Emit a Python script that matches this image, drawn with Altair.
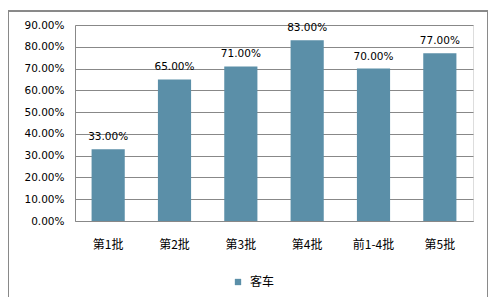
import altair as alt
import pandas as pd

categories = ["第1批", "第2批", "第3批", "第4批", "前1-4批", "第5批"]
values = [0.33, 0.65, 0.71, 0.83, 0.70, 0.77]
series = ["客车"] * len(categories)
y_ticks = [0.0, 0.1, 0.2, 0.3, 0.4, 0.5, 0.6, 0.7, 0.8, 0.9]

df = pd.DataFrame({"cat": categories, "val": values, "series": series})

x = alt.X("cat:N", sort=categories, title=None,
          scale=alt.Scale(paddingInner=0.5, paddingOuter=0.25),
          axis=alt.Axis(labelAngle=0, ticks=False, domainColor="#888888",
                        labelFont="Noto Sans CJK SC", labelFontSize=12,
                        labelColor="#000000", labelPadding=18))
y = alt.Y("val:Q", title=None,
          scale=alt.Scale(domain=[0, 0.9], nice=False),
          axis=alt.Axis(values=y_ticks, format=".2%", labelOverlap=False,
                        ticks=False, domainColor="#888888", gridColor="#888888",
                        gridOpacity=1,
                        labelFont="DejaVu Sans", labelFontSize=10.5,
                        labelColor="#000000", labelPadding=11))

bars = alt.Chart(df).mark_bar(color="#5B8FA8").encode(
    x=x, y=y,
    color=alt.Color("series:N", scale=alt.Scale(range=["#5B8FA8"]),
                    legend=alt.Legend(title=None, orient="none", legendX=157, legendY=251,
                                      symbolType="square", symbolSize=40,
                                      symbolStrokeWidth=0,
                                      labelFont="Noto Sans CJK SC", labelFontSize=12,
                                      labelColor="#000000", labelOffset=6)),
)

labels = alt.Chart(df).mark_text(baseline="alphabetic", dy=-9, font="DejaVu Sans",
                                 fontSize=10.5, color="#000000").encode(
    x=x, y=y,
    text=alt.Text("val:Q", format=".2%"),
)

border = alt.Chart(df).mark_rect(fill=None, stroke="#888888", strokeWidth=1).encode(
    x=alt.value(-67), x2=alt.value(413), y=alt.value(-14), y2=alt.value(274)
)

chart = alt.layer(border, bars, labels).properties(
    width=398, height=196,
    autosize=alt.AutoSizeParams(type="none"),
    padding={"left": 67, "top": 17, "right": 15, "bottom": 76},
).configure_view(stroke=None).configure(background="#ffffff")

chart.save("out.html", embed_options={"renderer": "svg", "actions": False})
